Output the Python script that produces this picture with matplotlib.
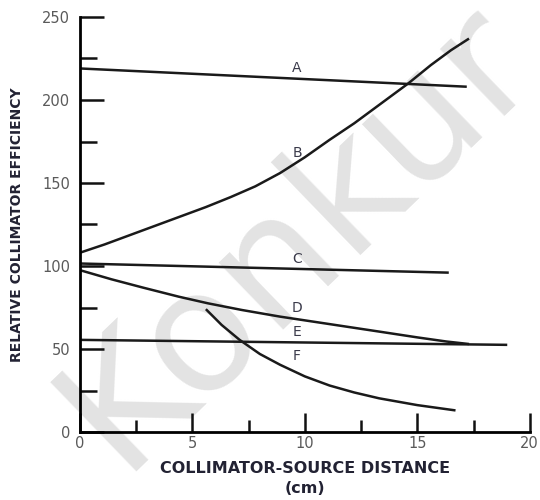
import matplotlib
matplotlib.use("Agg")
import matplotlib.pyplot as plt
from matplotlib.ticker import MultipleLocator

# curves (distance cm, relative efficiency)
a_x = [0, 17.2]
a_y = [219, 208]
b_x = [0, 1.1, 2.2, 3.3, 4.4, 5.6, 6.7, 7.8, 8.9, 10.0, 11.1, 12.2, 13.3, 14.6, 15.6, 16.5, 17.3]
b_y = [108, 113, 118.5, 124, 129.5, 135.5, 141.5, 148, 156, 165.5, 176, 186, 197, 210, 221, 230, 237]
c_x = [0, 16.4]
c_y = [101.5, 96]
d_x = [0, 1.4, 2.8, 4.4, 5.7, 7.2, 8.9, 11.1, 13.3, 15.0, 16.3, 17.3]
d_y = [97.5, 92, 87, 81.5, 77.5, 73.5, 69.5, 65, 60.5, 57, 54.5, 53]
e_x = [0, 19.0]
e_y = [55.5, 52.5]
f_x = [5.6, 6.3, 7.1, 8.0, 8.9, 10.0, 11.1, 12.2, 13.3, 15.0, 16.7]
f_y = [74, 64.5, 55.5, 47, 40.5, 33.5, 28, 23.8, 20.3, 16.2, 13]

curve_names = ["A", "B", "C", "D", "E", "F"]
label_x = [9.65, 9.65, 9.65, 9.65, 9.65, 9.65]
label_y = [219, 168, 104, 74.5, 60.5, 46]

fig = plt.figure(figsize=(5.4, 5.0), dpi=100)
ax = fig.add_axes([0.148, 0.136, 0.833, 0.830])
ax.patch.set_alpha(0)

# faint watermark behind everything
fig.text(0.55, 0.53, "Konkur", fontsize=122, color="#e3e3e3", rotation=44,
         ha="center", va="center", family="DejaVu Sans", zorder=-5)

for xs, ys in [(a_x, a_y), (b_x, b_y), (c_x, c_y), (d_x, d_y), (e_x, e_y), (f_x, f_y)]:
    ax.plot(xs, ys, color="#1a1a1a", lw=1.8, solid_capstyle="butt",
            solid_joinstyle="round")

for name, lx, ly in zip(curve_names, label_x, label_y):
    ax.text(lx, ly, name, fontsize=10, color="#3a3a4a", ha="center", va="center",
            family="DejaVu Sans")

ax.set_xlim(0, 20)
ax.set_ylim(0, 250)
ax.xaxis.set_major_locator(MultipleLocator(5))
ax.xaxis.set_minor_locator(MultipleLocator(2.5))
ax.yaxis.set_major_locator(MultipleLocator(50))
ax.yaxis.set_minor_locator(MultipleLocator(25))
ax.tick_params(which="both", direction="in", color="#111111", width=1.8,
               labelsize=10.5, labelcolor="#5a5a5a")
ax.tick_params(axis="y", which="major", length=17, pad=7)
ax.tick_params(axis="y", which="minor", length=12)
ax.tick_params(axis="x", which="major", length=14, pad=3)
ax.tick_params(axis="x", which="minor", length=9)

ax.spines["top"].set_visible(False)
ax.spines["right"].set_visible(False)
ax.spines["left"].set_linewidth(2)
ax.spines["bottom"].set_linewidth(2)

ax.set_xlabel("COLLIMATOR-SOURCE DISTANCE\n(cm)", fontsize=11.5, fontweight="bold",
              color="#222233", family="DejaVu Sans", labelpad=7, linespacing=1.45)
ax.set_ylabel("RELATIVE COLLIMATOR EFFICIENCY", fontsize=10, fontweight="bold",
              color="#222233", family="Liberation Sans Narrow")
ax.yaxis.set_label_coords(-0.125, 0.5)

fig.savefig("out.png", dpi=100)
